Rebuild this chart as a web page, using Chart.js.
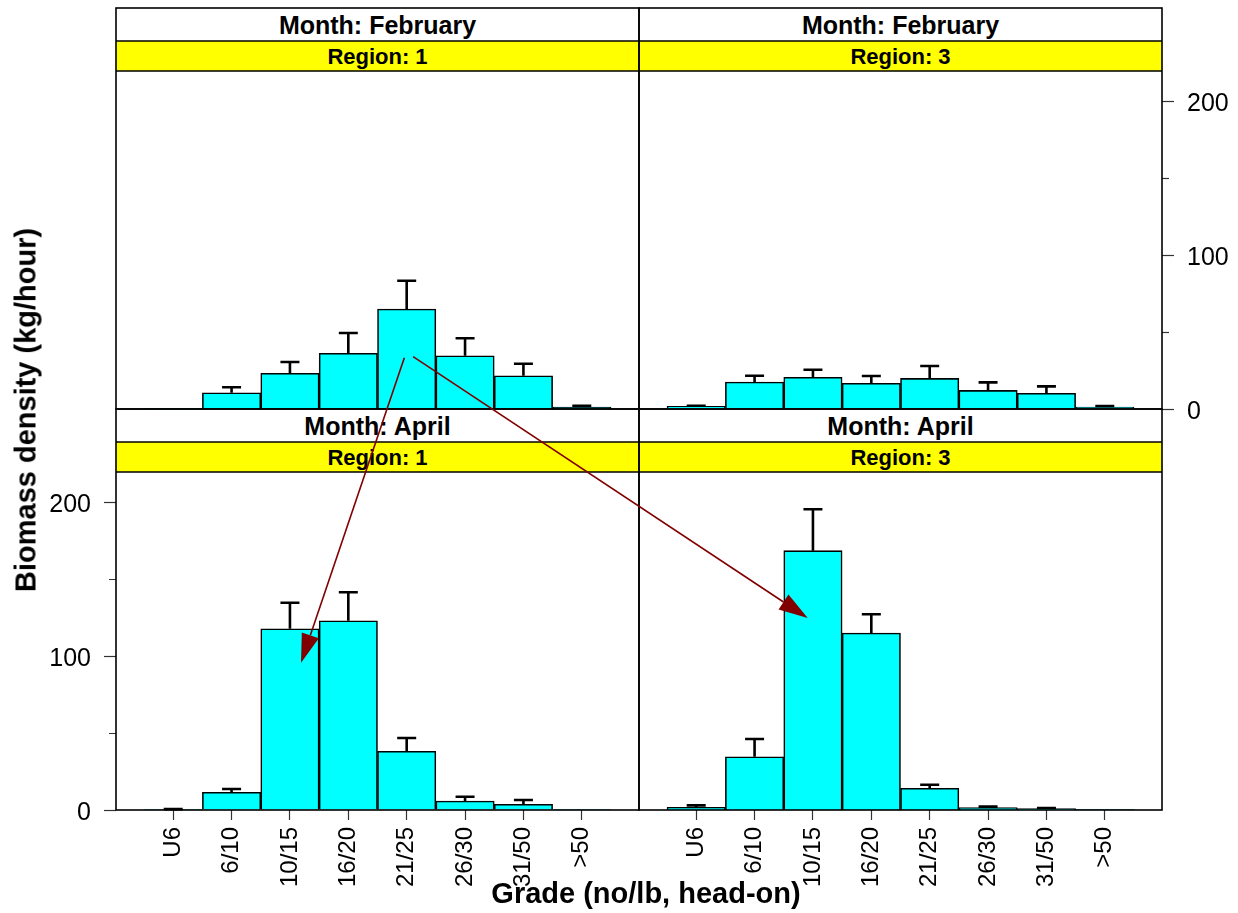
<!DOCTYPE html>
<html>
<head>
<meta charset="utf-8">
<script src="https://cdn.jsdelivr.net/npm/chart.js@4.4.0/dist/chart.umd.min.js"></script>
<style>
  html, body { margin: 0; padding: 0; background: #fff; }
  #page { position: relative; width: 1238px; height: 913px; overflow: hidden;
          font-family: "Liberation Sans", Arial, Helvetica, sans-serif; color: #000; }
  #page canvas { position: absolute; }
  .strip { position: absolute; text-align: center; font-weight: bold; white-space: nowrap; }
  .month { height: 33px; line-height: 35px; font-size: 25px; background: #fff; }
  .region { height: 30px; line-height: 31px; font-size: 22px; background: #ffff00; }
  .title { position: absolute; font-weight: bold; font-size: 29px; white-space: nowrap; z-index: 6; }
</style>
</head>
<body>
<div id="page"></div>
<script>
// grade classes along the x axis
const grades = ['U6', '6/10', '10/15', '16/20', '21/25', '26/30', '31/50', '>50'];

// mean biomass density (kg/hour) and standard error per grade
const febRegion1 = [0.3, 10.5, 23.2, 36.2, 64.9, 34.6, 21.6, 1.3];
const febRegion1Se = [0, 3.6, 7.3, 13.2, 18.4, 11.3, 7.8, 0.8];
const febRegion3 = [1.7, 17.5, 20.6, 16.7, 19.9, 12.1, 10.2, 1.3];
const febRegion3Se = [0.4, 4.1, 4.9, 4.7, 8.0, 5.2, 4.5, 0.6];
const aprRegion1 = [0.2, 11.5, 117.7, 122.9, 38.1, 5.8, 3.7, 0.2];
const aprRegion1Se = [0.4, 2.1, 16.9, 18.5, 8.7, 2.8, 2.8, 0];
const aprRegion3 = [1.7, 34.6, 168.4, 114.9, 14.1, 1.5, 0.9, 0.3];
const aprRegion3Se = [1.3, 11.5, 26.9, 12.2, 2.3, 0.7, 0.4, 0];

const yTicks = [0, 50, 100, 150, 200];
const yMax = 219.5;

// arrows: [panel, x (grade index), y (kg/hour)] -> [panel, x, y]
const arrows = [
  { from: [0, 3.96, 33.3], to: [2, 2.19, 95.6] },
  { from: [0, 4.11, 34.0], to: [3, 1.91, 124.7] }
];

const FONT = '"Liberation Sans", Arial, Helvetica, sans-serif';
const colLeft = [116, 639];
const rowTop = [8, 409];
const panelW = 523, monthH = 33, regionH = 30, plotH = 338;

const panels = [
  { month: 'February', region: 1, values: febRegion1, se: febRegion1Se, col: 0, row: 0, yAxis: null, showX: false },
  { month: 'February', region: 3, values: febRegion3, se: febRegion3Se, col: 1, row: 0, yAxis: 'right', showX: false },
  { month: 'April', region: 1, values: aprRegion1, se: aprRegion1Se, col: 0, row: 1, yAxis: 'left', showX: true },
  { month: 'April', region: 3, values: aprRegion3, se: aprRegion3Se, col: 1, row: 1, yAxis: null, showX: true }
];

const page = document.getElementById('page');

// whiskers above each bar
const errorBars = {
  id: 'errorBars',
  afterDatasetsDraw(chart, args, opts) {
    const meta = chart.getDatasetMeta(0);
    const data = chart.data.datasets[0].data;
    const y = chart.scales.y;
    const c = chart.ctx;
    c.save();
    c.strokeStyle = '#000';
    c.lineWidth = 2.6;
    meta.data.forEach((bar, i) => {
      const e = opts.se[i];
      if (!e) return;
      const top = y.getPixelForValue(data[i].y + e);
      c.beginPath();
      c.moveTo(bar.x, bar.y);
      c.lineTo(bar.x, top);
      c.moveTo(bar.x - 9.5, top);
      c.lineTo(bar.x + 9.5, top);
      c.stroke();
    });
    c.restore();
  }
};

function addDiv(cls, text, left, top, width) {
  const d = document.createElement('div');
  d.className = cls;
  d.textContent = text;
  d.style.left = left + 'px';
  d.style.top = top + 'px';
  d.style.width = width + 'px';
  page.appendChild(d);
  return d;
}

const charts = [];

panels.forEach(p => {
  const x0 = colLeft[p.col];
  const top = rowTop[p.row];
  const plotTop = top + monthH + regionH;

  addDiv('strip month', 'Month: ' + p.month, x0, top, panelW);
  addDiv('strip region', 'Region: ' + p.region, x0, top + monthH, panelW);

  // room for the half-height of the end tick labels
  const padTop = p.yAxis ? 40 : 0;
  const padBottom = p.yAxis && !p.showX ? 40 : 0;
  const yW = p.yAxis === 'left' ? 116 : (p.yAxis === 'right' ? 76 : 0);
  const xH = p.showX ? 103 : 0;
  const left = x0 - (p.yAxis === 'left' ? yW : 0);
  const cTop = plotTop - padTop;
  const w = panelW + yW;
  const h = padTop + plotH + xH + padBottom;

  const canvas = document.createElement('canvas');
  canvas.width = w;
  canvas.height = h;
  canvas.style.left = left + 'px';
  canvas.style.top = cTop + 'px';
  canvas.style.width = w + 'px';
  canvas.style.height = h + 'px';
  canvas.style.zIndex = 2;
  page.appendChild(canvas);

  const chart = new Chart(canvas, {
    type: 'bar',
    data: {
      datasets: [{
        data: grades.map((g, i) => ({ x: i, y: p.values[i] })),
        backgroundColor: '#00ffff',
        borderColor: '#000',
        borderWidth: 1.6,
        barPercentage: 1,
        categoryPercentage: 1
      }]
    },
    options: {
      responsive: false,
      animation: false,
      events: [],
      layout: { padding: { top: padTop, bottom: padBottom, left: 0, right: 0 } },
      plugins: {
        legend: { display: false },
        tooltip: { enabled: false },
        errorBars: { se: p.se }
      },
      scales: {
        x: {
          type: 'linear',
          min: -0.98,
          max: 7.98,
          offset: false,
          display: p.showX,
          afterBuildTicks: a => { a.ticks = grades.map((g, i) => ({ value: i })); },
          afterFit: a => { if (p.showX) a.height = xH; },
          ticks: {
            autoSkip: false,
            minRotation: 90,
            maxRotation: 90,
            padding: 7,
            color: '#000',
            font: { family: FONT, size: 24 },
            callback: v => grades[v]
          },
          grid: { offset: false, drawOnChartArea: false, tickLength: 10, tickColor: '#333', tickWidth: 1.2 },
          border: { display: false }
        },
        y: {
          type: 'linear',
          min: 0,
          max: yMax,
          position: p.yAxis || 'left',
          display: !!p.yAxis,
          afterBuildTicks: a => { a.ticks = yTicks.map(v => ({ value: v })); },
          afterFit: a => { if (p.yAxis) a.width = yW; },
          ticks: {
            padding: 13,
            labelOffset: 3,
            color: '#000',
            font: { family: FONT, size: 25 },
            callback: v => (v % 100 === 0 ? String(v) : '')
          },
          grid: {
            drawOnChartArea: false,
            tickLength: 12,
            tickColor: '#333',
            tickWidth: 1.2,
            // half-length minor ticks at 50 and 150
            tickBorderDash: ctx => (ctx.tick && ctx.tick.value % 100 !== 0)
              ? (p.yAxis === 'left' ? [0, 5, 7, 100] : [7, 100]) : []
          },
          border: { display: false }
        }
      }
    },
    plugins: [errorBars]
  });
  chart.$left = left;
  chart.$top = cTop;
  charts.push(chart);
});

// axis titles
const yTitle = addDiv('title', 'Biomass density (kg/hour)', 0, 0, 400);
yTitle.style.width = 'auto';
yTitle.style.left = '26px';
yTitle.style.top = '410px';
yTitle.style.transform = 'translate(-50%, -50%) rotate(-90deg)';
const xTitle = addDiv('title', 'Grade (no/lb, head-on)', 0, 0, 400);
xTitle.style.width = 'auto';
xTitle.style.left = '646px';
xTitle.style.top = '893px';
xTitle.style.transform = 'translate(-50%, -50%)';

// panel frames and arrows on top
const overlay = document.createElement('canvas');
overlay.width = 1238;
overlay.height = 913;
overlay.style.left = '0px';
overlay.style.top = '0px';
overlay.style.zIndex = 5;
page.appendChild(overlay);
const g = overlay.getContext('2d');

g.strokeStyle = '#000';
g.lineWidth = 1.6;
rowTop.forEach(t => {
  colLeft.forEach(l => {
    g.strokeRect(l, t, panelW, monthH + regionH + plotH);
    g.beginPath();
    g.moveTo(l, t + monthH);
    g.lineTo(l + panelW, t + monthH);
    g.moveTo(l, t + monthH + regionH);
    g.lineTo(l + panelW, t + monthH + regionH);
    g.stroke();
  });
});

function toPage(pt) {
  const ch = charts[pt[0]];
  return [ch.$left + ch.scales.x.getPixelForValue(pt[1]), ch.$top + ch.scales.y.getPixelForValue(pt[2])];
}

g.strokeStyle = '#800000';
g.fillStyle = '#800000';
arrows.forEach(a => {
  const [x1, y1] = toPage(a.from);
  const [x2, y2] = toPage(a.to);
  const ang = Math.atan2(y2 - y1, x2 - x1);
  const len = 29, half = 9;
  const bx = x2 - len * Math.cos(ang), by = y2 - len * Math.sin(ang);
  g.lineWidth = 1.6;
  g.beginPath();
  g.moveTo(x1, y1);
  g.lineTo(bx, by);
  g.stroke();
  g.beginPath();
  g.moveTo(x2, y2);
  g.lineTo(bx + half * Math.sin(ang), by - half * Math.cos(ang));
  g.lineTo(bx - half * Math.sin(ang), by + half * Math.cos(ang));
  g.closePath();
  g.fill();
});
</script>
</body>
</html>
